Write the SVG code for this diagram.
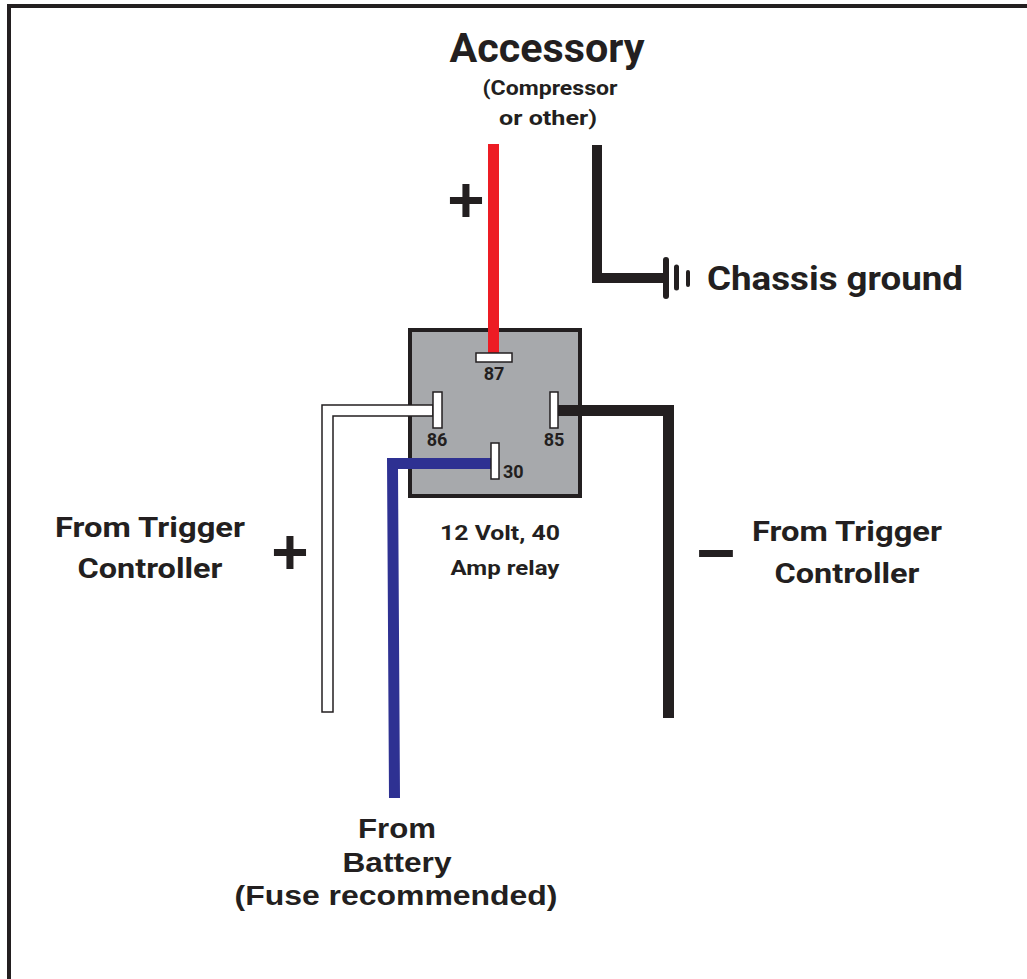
<svg xmlns="http://www.w3.org/2000/svg" width="1027" height="979" viewBox="0 0 1027 979">
<style>
.din{font-family:Roboto,"DejaVu Sans",sans-serif;font-weight:bold;fill:#231f20}
.ar{font-family:"Liberation Sans",Arial,sans-serif;font-weight:bold;fill:#231f20}
.term{fill:#ffffff;stroke:#231f20;stroke-width:1.5}
.blk{fill:none;stroke:#231f20;stroke-linejoin:miter;stroke-linecap:butt}
</style>
<rect width="1027" height="979" fill="#ffffff"/>
<g id="frame">
<path d="M9,979 V6 H1027" fill="none" stroke="#231f20" stroke-width="4"/>
</g>
<g id="accessory">
<text class="din" x="547" y="62" font-size="40" text-anchor="middle" textLength="195" lengthAdjust="spacingAndGlyphs">Accessory</text>
<text class="din" x="550" y="95" font-size="20" text-anchor="middle" textLength="135" lengthAdjust="spacingAndGlyphs">(Compressor</text>
<text class="din" x="548" y="125" font-size="20" text-anchor="middle" textLength="98" lengthAdjust="spacingAndGlyphs">or other)</text>
<text class="ar" x="466" y="222" font-size="64" text-anchor="middle">+</text>
</g>
<g id="chassis-ground">
<line x1="666" y1="260" x2="666" y2="296" stroke="#231f20" stroke-width="6" stroke-linecap="round"/>
<line x1="676.5" y1="267" x2="676.5" y2="288" stroke="#231f20" stroke-width="5" stroke-linecap="round"/>
<line x1="688" y1="272" x2="688" y2="285" stroke="#231f20" stroke-width="4" stroke-linecap="round"/>
<text class="din" x="707" y="290" font-size="34" textLength="256" lengthAdjust="spacingAndGlyphs">Chassis ground</text>
</g>
<g id="relay">
<rect x="410" y="330" width="170" height="166" fill="#a7a9ac" stroke="#231f20" stroke-width="4"/>
<text class="din" x="437" y="446" font-size="18" text-anchor="middle">86</text>
<text class="din" x="554" y="446" font-size="18" text-anchor="middle">85</text>
<text class="din" x="494" y="380" font-size="18" text-anchor="middle">87</text>
<text class="din" x="503" y="478" font-size="18">30</text>
<text class="din" x="500" y="540" font-size="21" text-anchor="middle" textLength="120" lengthAdjust="spacingAndGlyphs">12 Volt, 40</text>
<text class="din" x="505" y="575" font-size="21" text-anchor="middle" textLength="109" lengthAdjust="spacingAndGlyphs">Amp relay</text>
</g>
<g id="trigger-plus">
<text class="din" x="150" y="537" font-size="27" text-anchor="middle" textLength="190" lengthAdjust="spacingAndGlyphs">From Trigger</text>
<text class="din" x="150" y="578" font-size="27" text-anchor="middle" textLength="145" lengthAdjust="spacingAndGlyphs">Controller</text>
<text class="ar" x="290" y="574" font-size="64" text-anchor="middle">+</text>
</g>
<g id="trigger-minus">
<text class="din" x="847" y="541" font-size="27" text-anchor="middle" textLength="190" lengthAdjust="spacingAndGlyphs">From Trigger</text>
<text class="din" x="847" y="583" font-size="27" text-anchor="middle" textLength="145" lengthAdjust="spacingAndGlyphs">Controller</text>
<text class="ar" x="716" y="572" font-size="70" text-anchor="middle" textLength="38" lengthAdjust="spacingAndGlyphs">–</text>
</g>
<g id="battery">
<text class="ar" x="397" y="838" font-size="28" text-anchor="middle" textLength="78" lengthAdjust="spacingAndGlyphs">From</text>
<text class="ar" x="397" y="872" font-size="28" text-anchor="middle" textLength="109" lengthAdjust="spacingAndGlyphs">Battery</text>
<text class="ar" x="396" y="905" font-size="28" text-anchor="middle" textLength="323" lengthAdjust="spacingAndGlyphs">(Fuse recommended)</text>
</g>
<g id="connectors">
<rect x="488" y="144" width="11" height="210" fill="#ed1c24"/>
<path class="blk" d="M597,145 V278 H663" stroke-width="10"/>
<path d="M322,405 H433 V416 H333 V712 H322 Z" fill="#ffffff" stroke="#231f20" stroke-width="1.5"/>
<path class="blk" d="M558,410.5 H668.5 V718" stroke-width="11"/>
<path d="M491,458 H387 L389,798 H400 L398,469 H491 Z" fill="#2e3192"/>
</g>
<g id="terminals">
<rect class="term" x="476" y="353" width="36" height="9"/>
<rect class="term" x="433" y="392" width="9" height="36"/>
<rect class="term" x="550" y="392" width="8" height="36"/>
<rect class="term" x="491" y="443" width="8" height="36"/>
</g>
</svg>
